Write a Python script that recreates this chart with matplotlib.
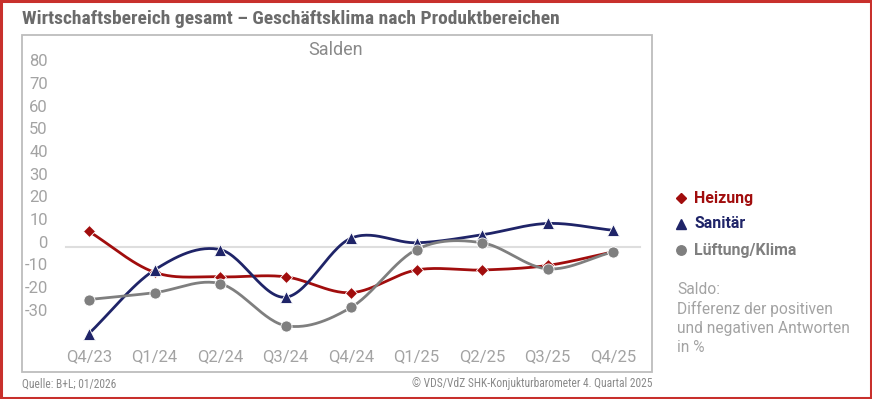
import matplotlib.pyplot as plt
import numpy as np
from matplotlib import font_manager
from matplotlib.transforms import ScaledTranslation
from matplotlib.patches import Rectangle

# Daten (Salden in %)
quartale = ["Q4/23", "Q1/24", "Q2/24", "Q3/24", "Q4/24", "Q1/25", "Q2/25", "Q3/25", "Q4/25"]
heizung = [7, -11, -13, -13, -20, -10, -10, -8, -2]
sanitaer = [-38, -10, -1, -22, 4, 2, 5.5, 10.5, 7.5]
lueftung = [-23, -20, -16, -34.5, -26.5, -1, 2, -9.5, -2]
yticks = [-30, -20, -10, 0, 10, 20, 30, 40, 50, 60, 70, 80]

serien = [
    ("Heizung", heizung, "#a10d0d", "D", 6.5),
    ("Sanitär", sanitaer, "#1f2468", "^", 8.5),
    ("Lüftung/Klima", lueftung, "#7f7f7f", "o", 8),
]

FONT = ["Roboto", "DejaVu Sans"]

# schmale Schrift, falls vorhanden
narrow = None
for fam in ["Roboto Condensed", "Liberation Sans Narrow", "Open Sans Condensed"]:
    try:
        font_manager.findfont(font_manager.FontProperties(family=fam), fallback_to_default=False)
        narrow = fam
        break
    except Exception:
        pass
NARROW = [narrow, "Roboto", "DejaVu Sans"] if narrow else FONT
title_size = 14 if narrow else 12.3
foot_size = 8.3 if narrow else 7.5


def glatt(y, n=30):
    # Catmull-Rom wie Excel "geglättete Linie"
    y = np.asarray(y, float)
    x = np.arange(len(y), dtype=float)
    p = np.concatenate([[2 * y[0] - y[1]], y, [2 * y[-1] - y[-2]]])
    xs, ys = [], []
    for i in range(len(y) - 1):
        p0, p1, p2, p3 = p[i], p[i + 1], p[i + 2], p[i + 3]
        t = np.linspace(0, 1, n, endpoint=False)
        yy = 0.5 * (2 * p1 + (-p0 + p2) * t + (2 * p0 - 5 * p1 + 4 * p2 - p3) * t**2
                    + (-p0 + 3 * p1 - 3 * p2 + p3) * t**3)
        xs.append(x[i] + t)
        ys.append(yy)
    xs.append([x[-1]])
    ys.append([y[-1]])
    return np.concatenate(xs), np.concatenate(ys)


W, H = 872, 399
fig = plt.figure(figsize=(W / 100, H / 100), dpi=100)

# Hintergrund-Achse in Pixelkoordinaten
bg = fig.add_axes([0, 0, 1, 1])
bg.set_xlim(0, W)
bg.set_ylim(H, 0)
bg.axis("off")
bg.add_patch(Rectangle((1, 1), W - 2, H - 2, fill=False, ec="#c8302c", lw=2.2))
bg.add_patch(Rectangle((22, 35), 630, 337, fill=False, ec="#bdbdbd", lw=1.3))

bg.text(22, 19, "Wirtschaftsbereich gesamt – Geschäftsklima nach Produktbereichen",
        family=NARROW, fontweight="bold", fontsize=title_size, color="#6b6b6b", va="center", ha="left")
bg.text(336, 50, "Salden", family=FONT, fontsize=13, color="#8a8a8a",
        ha="center", va="center")
bg.text(22, 384, "Quelle: B+L; 01/2026", family=NARROW, fontsize=foot_size, color="#8a8a8a", va="center")
bg.text(652, 384, "© VDS/VdZ SHK-Konjukturbarometer 4. Quartal 2025", family=NARROW, fontsize=foot_size,
        color="#8a8a8a", va="center", ha="right")

# Legende
for i, (name, _, col, mk, ms) in enumerate(serien):
    yy = 198 + i * 26
    bg.plot([681], [yy], marker=mk, color=col, ms=ms * 0.85, ls="none")
    bg.text(694, yy, name, family=FONT, fontweight="bold", fontsize=11.4, color=col, va="center")

bg.text(677, 282, "Saldo:\nDifferenz der positiven\nund negativen Antworten\nin %",
        family=FONT, fontsize=11.2, color="#a3a3a3", va="top", linespacing=1.33)

# Diagramm
x0, dx = 89, 65.5
zero, per10 = 247.3, 22.7
xmin, xmax = -0.5, 8.5
ymin, ymax = -42, 85
left = x0 + xmin * dx
right = x0 + xmax * dx
top = zero - ymax * per10 / 10
bottom = zero - ymin * per10 / 10
ax = fig.add_axes([left / W, (H - bottom) / H, (right - left) / W, (bottom - top) / H])
ax.patch.set_alpha(0)
ax.set_xlim(xmin, xmax)
ax.set_ylim(ymin, ymax)
for s in ax.spines.values():
    s.set_visible(False)

ax.axhline(0, xmin=(66 - left) / (right - left), xmax=(640 - left) / (right - left),
           color="#dedede", lw=1.5, zorder=1)

for name, werte, col, mk, ms in serien:
    xs, ys = glatt(werte)
    ax.plot(xs, ys, color=col, lw=2, zorder=2, solid_capstyle="round")
    ax.plot(range(len(werte)), werte, ls="none", marker=mk, ms=ms, color=col,
            mec="white", mew=0.6, zorder=3)

ax.set_xticks(range(len(quartale)))
ax.set_xticklabels(quartale)
ax.set_yticks(yticks)
ax.set_yticklabels([str(v) for v in yticks])
ax.tick_params(length=0, labelsize=12, labelcolor="#a3a3a3")
ax.tick_params(axis="y", pad=6)
ax.tick_params(axis="x", pad=5)
for lab in ax.get_xticklabels() + ax.get_yticklabels():
    lab.set_family(FONT)
for lab in ax.get_yticklabels():
    lab.set_transform(lab.get_transform() + ScaledTranslation(0, 4 / 72, fig.dpi_scale_trans))

fig.savefig("out.png", dpi=100)
